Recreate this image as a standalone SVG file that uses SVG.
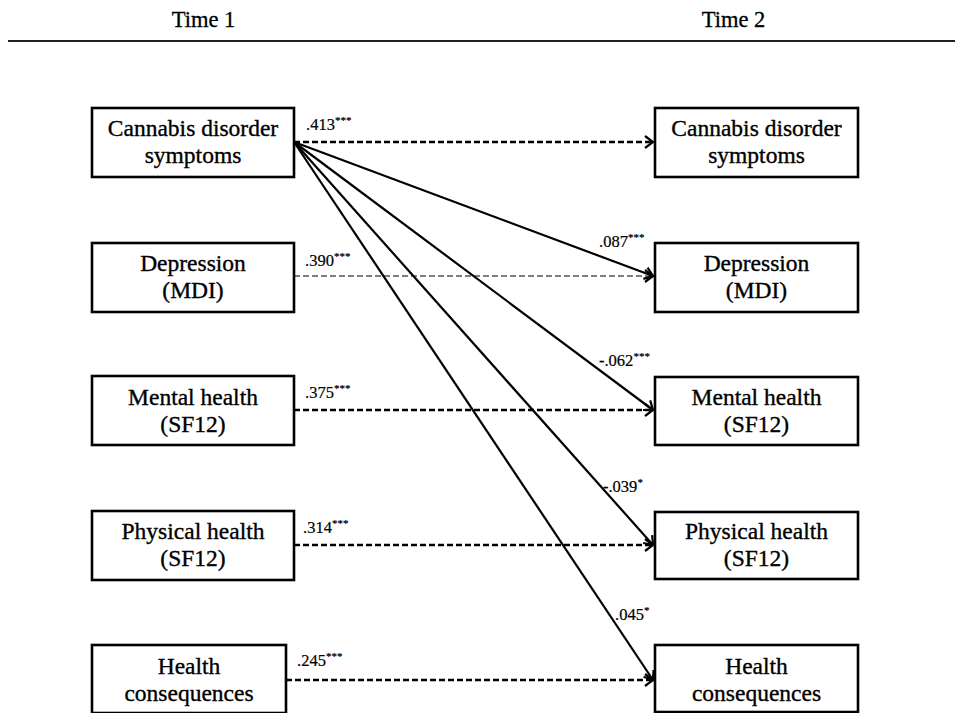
<svg xmlns="http://www.w3.org/2000/svg" width="955" height="713" viewBox="0 0 955 713">
<defs>
<style>
.box{fill:#fff;stroke:#000;stroke-width:2.6}
.bt{font-family:"Liberation Serif","Times New Roman",serif;font-size:23.5px;fill:#000;stroke:#000;stroke-width:0.35;text-anchor:middle}
.hd{font-family:"Liberation Serif","Times New Roman",serif;font-size:22.5px;fill:#000;stroke:#000;stroke-width:0.3;text-anchor:middle}
.lb{font-family:"Liberation Serif","Times New Roman",serif;font-size:16.5px;fill:#000;stroke:#000;stroke-width:0.2}
.sup{font-size:11px}
.dash{fill:none;stroke:#000;stroke-width:2.3;stroke-dasharray:6 3}
.dthin{fill:none;stroke:#000;stroke-width:1.2;stroke-dasharray:6 3}
.solid{fill:none;stroke:#000;stroke-width:2.2}
</style>
<marker id="ah" markerUnits="userSpaceOnUse" markerWidth="12" markerHeight="16" viewBox="0 0 12 16" refX="10" refY="8" orient="auto">
<path d="M2,2 L10,8 L2,14" fill="none" stroke="#000" stroke-width="2.2"/>
</marker>
</defs>
<rect width="955" height="713" fill="#fff"/>
<g id="header">
<text class="hd" x="203.5" y="27">Time 1</text>
<text class="hd" x="733.5" y="27">Time 2</text>
<line x1="8" y1="41" x2="955" y2="41" stroke="#222" stroke-width="2"/>
</g>
<g id="connectors">
<line class="dash" x1="294" y1="142" x2="653" y2="142" marker-end="url(#ah)"/>
<line class="dthin" x1="294" y1="276" x2="653" y2="276" marker-end="url(#ah)"/>
<line class="dash" x1="294" y1="410" x2="653" y2="410" marker-end="url(#ah)"/>
<line class="dash" x1="294" y1="545" x2="653" y2="545" marker-end="url(#ah)"/>
<line class="dash" x1="286" y1="680" x2="653" y2="680" marker-end="url(#ah)"/>
<line class="solid" x1="294" y1="142" x2="653" y2="276" marker-end="url(#ah)"/>
<line class="solid" x1="294" y1="142" x2="653" y2="410" marker-end="url(#ah)"/>
<line class="solid" x1="294" y1="142" x2="653" y2="545" marker-end="url(#ah)"/>
<line class="solid" x1="294" y1="142" x2="653" y2="680" marker-end="url(#ah)"/>
<text class="lb" x="306" y="130">.413<tspan class="sup" dy="-6">***</tspan></text>
<text class="lb" x="305" y="266">.390<tspan class="sup" dy="-6">***</tspan></text>
<text class="lb" x="305" y="398">.375<tspan class="sup" dy="-6">***</tspan></text>
<text class="lb" x="303" y="533">.314<tspan class="sup" dy="-6">***</tspan></text>
<text class="lb" x="297" y="666">.245<tspan class="sup" dy="-6">***</tspan></text>
<text class="lb" x="599" y="247">.087<tspan class="sup" dy="-6">***</tspan></text>
<text class="lb" x="599" y="366">-.062<tspan class="sup" dy="-6">***</tspan></text>
<text class="lb" x="603" y="492">-.039<tspan class="sup" dy="-6">*</tspan></text>
<text class="lb" x="615" y="620">.045<tspan class="sup" dy="-6">*</tspan></text>
</g>
<g id="t1-cannabis">
<rect class="box" x="92" y="108" width="202" height="69"/>
<text class="bt" x="193" y="136">Cannabis disorder</text>
<text class="bt" x="193" y="163">symptoms</text>
</g>
<g id="t1-depression">
<rect class="box" x="92" y="243" width="202" height="69"/>
<text class="bt" x="193" y="271">Depression</text>
<text class="bt" x="193" y="298">(MDI)</text>
</g>
<g id="t1-mental">
<rect class="box" x="92" y="376" width="202" height="69"/>
<text class="bt" x="193" y="405">Mental health</text>
<text class="bt" x="193" y="432">(SF12)</text>
</g>
<g id="t1-physical">
<rect class="box" x="92" y="511" width="202" height="69"/>
<text class="bt" x="193" y="539">Physical health</text>
<text class="bt" x="193" y="566">(SF12)</text>
</g>
<g id="t1-healthcons">
<rect class="box" x="92" y="645" width="194" height="68"/>
<text class="bt" x="189" y="674">Health</text>
<text class="bt" x="189" y="701">consequences</text>
</g>
<g id="t2-cannabis">
<rect class="box" x="655" y="108" width="203" height="69"/>
<text class="bt" x="756.5" y="136">Cannabis disorder</text>
<text class="bt" x="756.5" y="163">symptoms</text>
</g>
<g id="t2-depression">
<rect class="box" x="655" y="243" width="203" height="69"/>
<text class="bt" x="756.5" y="271">Depression</text>
<text class="bt" x="756.5" y="298">(MDI)</text>
</g>
<g id="t2-mental">
<rect class="box" x="655" y="377" width="203" height="68"/>
<text class="bt" x="756.5" y="405">Mental health</text>
<text class="bt" x="756.5" y="432">(SF12)</text>
</g>
<g id="t2-physical">
<rect class="box" x="655" y="512" width="203" height="67"/>
<text class="bt" x="756.5" y="539">Physical health</text>
<text class="bt" x="756.5" y="566">(SF12)</text>
</g>
<g id="t2-healthcons">
<rect class="box" x="655" y="645" width="203" height="67"/>
<text class="bt" x="756.5" y="674">Health</text>
<text class="bt" x="756.5" y="701">consequences</text>
</g>
</svg>
